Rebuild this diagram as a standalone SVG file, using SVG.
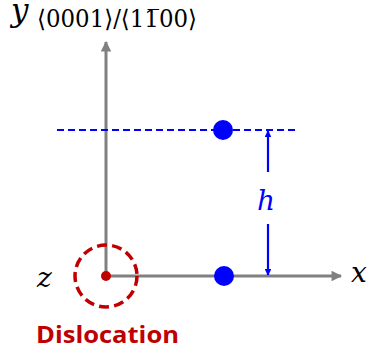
<svg xmlns="http://www.w3.org/2000/svg" width="370" height="356" viewBox="0 0 370 356">
<style>
.axis{stroke:#808080;stroke-width:3;fill:none}
.blue{stroke:#0000FF;fill:none}
.math{font-family:"DejaVu Serif","Liberation Serif",serif;font-style:italic}
.sub{font-family:"DejaVu Serif","Liberation Serif",serif;font-size:24px;fill:#000}
</style>
<defs>
<marker id="ga" viewBox="0 0 10 10" refX="9" refY="5" markerWidth="4" markerHeight="3.5" orient="auto" markerUnits="strokeWidth"><path d="M0,0 L10,5 L0,10 Z" fill="#808080"/></marker>
<marker id="ba" viewBox="0 0 10 10" refX="9" refY="5" markerWidth="4" markerHeight="3" orient="auto" markerUnits="strokeWidth"><path d="M0,0 L10,5 L0,10 Z" fill="#0000FF"/></marker>
</defs>
<rect width="370" height="356" fill="#fff"/>
<g id="connectors">
<line class="axis" x1="106" y1="276" x2="106" y2="42" marker-end="url(#ga)"/>
<line class="axis" x1="106" y1="276" x2="341" y2="276" marker-end="url(#ga)"/>
<line class="blue" x1="57" y1="130" x2="296" y2="130" stroke-width="2" stroke-dasharray="7,4"/>
<line class="blue" x1="268" y1="172" x2="268" y2="131" stroke-width="2.2" marker-end="url(#ba)"/>
<line class="blue" x1="268" y1="224" x2="268" y2="275" stroke-width="2.2" marker-end="url(#ba)"/>
</g>
<g id="dislocation">
<circle cx="106" cy="276" r="31" fill="none" stroke="#C00000" stroke-width="3.5" stroke-dasharray="10,5.2"/>
<circle cx="106" cy="276" r="5" fill="#C00000"/>
<text x="36" y="343" font-family="Open Sans, Liberation Sans, sans-serif" font-weight="bold" font-size="23" fill="#C00000" textLength="143" lengthAdjust="spacingAndGlyphs">Dislocation</text>
</g>
<g id="atom-bottom"><circle cx="224" cy="276" r="10" fill="#0000FF"/></g>
<g id="atom-top"><circle cx="223" cy="130" r="10" fill="#0000FF"/></g>
<g id="label-h"><text class="math" x="257" y="210" font-size="28" fill="#0000FF">h</text></g>
<g id="label-x"><text class="math" x="351" y="282" font-size="28" fill="#000">x</text></g>
<g id="label-z"><text class="math" x="37" y="287" font-size="28" fill="#000">z</text></g>
<g id="label-y">
<text class="math" x="11" y="21" font-size="31" fill="#000">y</text>
<text class="sub" x="37" y="27" textLength="160" lengthAdjust="spacingAndGlyphs">⟨0001⟩/⟨11&#x305;00⟩</text>
</g>
</svg>
